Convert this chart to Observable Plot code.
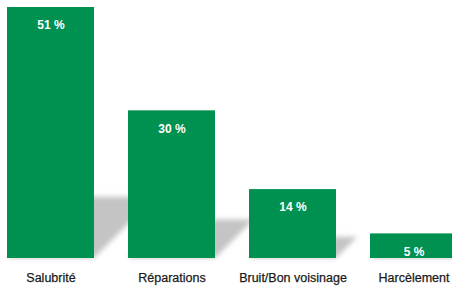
<!DOCTYPE html>
<html><head><meta charset="utf-8">
<script src="https://cdn.jsdelivr.net/npm/d3@7"></script>
<script src="https://cdn.jsdelivr.net/npm/@observablehq/plot@0.6"></script>
<style>html,body{margin:0;padding:0;background:#fff} #chart svg{display:block}</style>
</head><body><div id="chart"></div>
<script>
const categories = ["Salubrité", "Réparations", "Bruit/Bon voisinage", "Harcèlement"];
const values = [51, 30, 14, 5];
const data = categories.map((c, i) => ({category: c, value: values[i]}));

const green = "#00904f";

const plot = Plot.plot({
  width: 452,
  height: 287,
  margin: 0,
  style: {fontFamily: "Liberation Sans, Arial, sans-serif", background: "#fff"},
  x: {domain: categories, range: [7, 457], paddingInner: 0.281, paddingOuter: 0, axis: null},
  y: {domain: [0, 51], range: [258, 7], axis: null},
  marks: [
    Plot.barY(data, {x: "category", y: "value", fill: green, className: "bars"}),
    Plot.text(data, {x: "category", y: "value", text: d => d.value + " %", dy: 18, fill: "#fff", fontSize: 12, fontWeight: "bold"}),
    Plot.text(data, {x: "category", y: 0, text: "category", dy: 19, fill: "#1a1a1a", fontSize: 12.5, stroke: "#1a1a1a", strokeWidth: 0.25})
  ]
});

// soft cast shadows behind the bars, positioned with the plot's own scales
const sx = plot.scale("x"), sy = plot.scale("y");
const ns = "http://www.w3.org/2000/svg";
const g = document.createElementNS(ns, "g");
const sel = d3.select(g);
sel.append("defs").append("filter").attr("id", "shBlur")
  .attr("x", "-50%").attr("y", "-50%").attr("width", "200%").attr("height", "200%")
  .append("feGaussianBlur").attr("stdDeviation", 2.5);
const base = sy.apply(0);
for (const d of data) {
  const x0 = sx.apply(d.category), x1 = x0 + sx.bandwidth;
  const H = base - sy.apply(d.value);
  const h = 0.22 * H + 6;
  sel.append("polygon")
    .attr("points", [[x0, base], [x1, base], [x1 + h, base - h], [x0 + h, base - h]].map(p => p.join(",")).join(" "))
    .attr("fill", "#c4c4c4")
    .attr("filter", "url(#shBlur)");
}
const bars = plot.querySelector(".bars");
plot.insertBefore(g, bars);

document.getElementById("chart").append(plot);
</script>
</body></html>
